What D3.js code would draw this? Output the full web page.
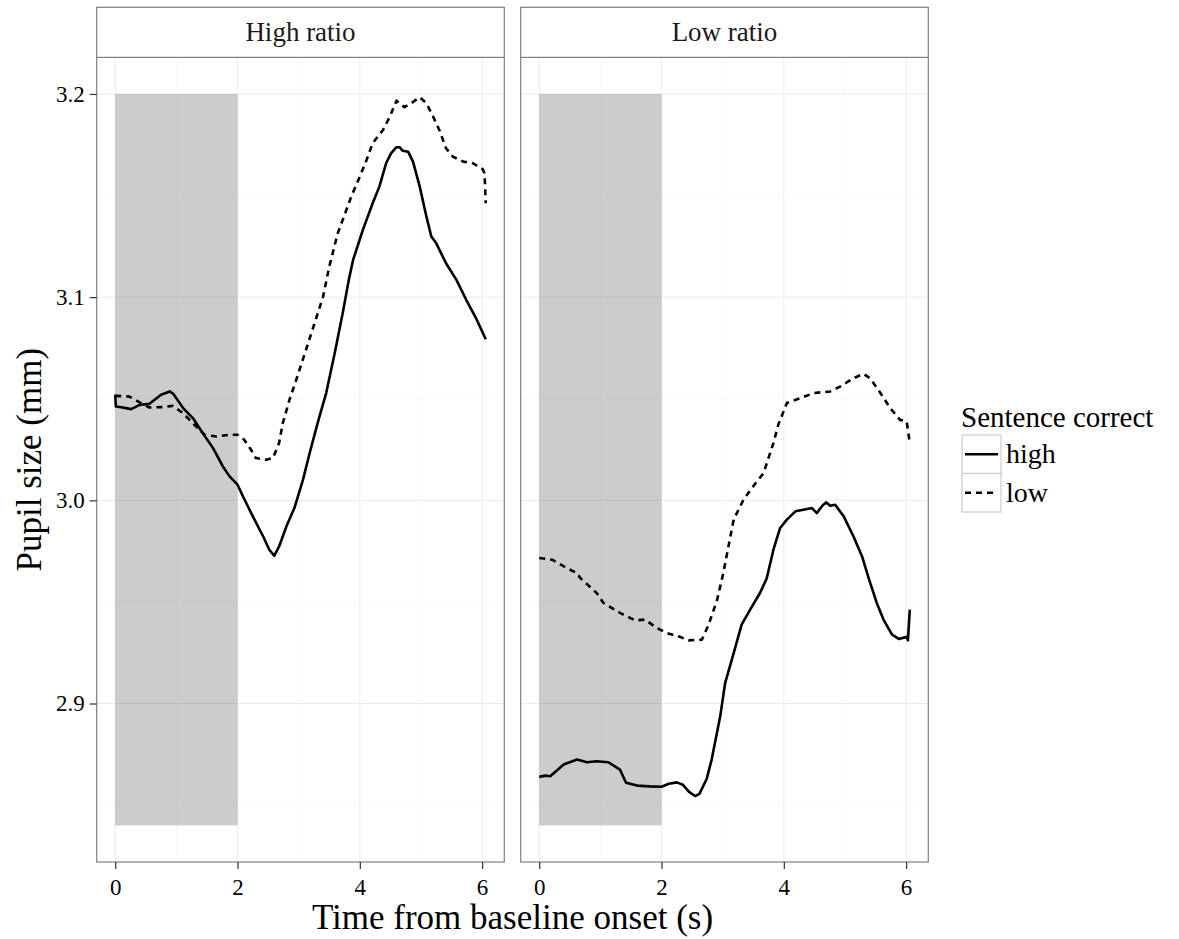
<!DOCTYPE html>
<html>
<head>
<meta charset="utf-8">
<script src="https://cdn.jsdelivr.net/npm/d3@7"></script>
<style>
  html, body { margin: 0; padding: 0; background: #fff; }
  svg { display: block; }
  svg text { font-family: "Liberation Serif", "DejaVu Serif", serif; }
</style>
</head>
<body>
<svg id="chart" width="1179" height="939"></svg>
<script>
// Facets and groups
const panels = ["High ratio", "Low ratio"];
const groups = ["high", "low"];
const legendTitle = "Sentence correct";
const xTitle = "Time from baseline onset (s)";
const yTitle = "Pupil size (mm)";

// Tick values and labels
const xTicks = [0, 2, 4, 6];
const xMinor = [1, 3, 5];
const yTicks = [2.9, 3.0, 3.1, 3.2];
const yTickLabels = ["2.9", "3.0", "3.1", "3.2"];
const yMinor = [2.85, 2.95, 3.05, 3.15];

// Baseline window (shaded region), seconds and mm
const baselineX = [0, 2];
const baselineY = [2.84, 3.2];

// Pupil size over time [seconds, mm]: High ratio, sentence correct = high
const highRatioHigh = [
  [0.00,3.0520],[0.01,3.0462],[0.10,3.0458],[0.26,3.0449],[0.40,3.0470],[0.56,3.0475],
  [0.75,3.0520],[0.89,3.0536],[0.95,3.0524],[1.11,3.0454],[1.27,3.0405],[1.43,3.0331],
  [1.60,3.0257],[1.76,3.0167],[1.87,3.0118],[2.00,3.0077],[2.09,3.0019],[2.25,2.9921],
  [2.42,2.9822],[2.52,2.9757],[2.60,2.9727],[2.68,2.9773],[2.80,2.9872],[2.93,2.9962],
  [3.07,3.0101],[3.18,3.0233],[3.31,3.0380],[3.45,3.0528],[3.59,3.0725],[3.72,3.0921],
  [3.82,3.1085],[3.89,3.1183],[4.05,3.1331],[4.21,3.1462],[4.32,3.1544],[4.43,3.1659],
  [4.51,3.1708],[4.60,3.1738],[4.65,3.1738],[4.70,3.1721],[4.79,3.1716],[4.87,3.1667],
  [4.98,3.1544],[5.09,3.1396],[5.17,3.1298],[5.25,3.1265],[5.41,3.1167],[5.58,3.1085],
  [5.74,3.0987],[5.90,3.0897],[6.06,3.0793]
];
// High ratio, sentence correct = low
const highRatioLow = [
  [0.00,3.0514],[0.23,3.0511],[0.40,3.0482],[0.56,3.0457],[0.78,3.0459],[0.94,3.0465],
  [1.11,3.0429],[1.32,3.0364],[1.46,3.0323],[1.65,3.0314],[1.87,3.0323],[2.00,3.0323],
  [2.11,3.0298],[2.22,3.0249],[2.30,3.0208],[2.47,3.0200],[2.58,3.0208],[2.68,3.0282],
  [2.74,3.0380],[2.85,3.0495],[2.96,3.0593],[3.12,3.0741],[3.26,3.0872],[3.40,3.1003],
  [3.50,3.1150],[3.64,3.1315],[3.78,3.1429],[3.86,3.1495],[4.00,3.1593],[4.11,3.1675],
  [4.21,3.1757],[4.38,3.1823],[4.49,3.1888],[4.60,3.1967],[4.73,3.1935],[4.84,3.1954],
  [4.98,3.1984],[5.09,3.1954],[5.20,3.1888],[5.30,3.1823],[5.41,3.1733],[5.52,3.1692],
  [5.69,3.1667],[5.85,3.1659],[6.01,3.1630],[6.04,3.1610],[6.06,3.1462]
];
// Low ratio, sentence correct = high
const lowRatioHigh = [
  [0.00,2.8639],[0.10,2.8645],[0.18,2.8642],[0.40,2.8700],[0.62,2.8724],[0.78,2.8711],
  [0.94,2.8716],[1.13,2.8711],[1.32,2.8675],[1.42,2.8610],[1.60,2.8596],[1.80,2.8592],
  [2.00,2.8590],[2.12,2.8605],[2.25,2.8612],[2.35,2.8600],[2.45,2.8565],[2.55,2.8545],
  [2.62,2.8555],[2.74,2.8630],[2.82,2.8724],[2.96,2.8937],[3.04,2.9100],[3.18,2.9248],
  [3.31,2.9388],[3.45,2.9462],[3.61,2.9544],[3.72,2.9615],[3.83,2.9757],[3.94,2.9864],
  [4.05,2.9905],[4.19,2.9946],[4.32,2.9954],[4.46,2.9962],[4.54,2.9937],[4.62,2.9970],
  [4.69,2.9990],[4.76,2.9973],[4.84,2.9978],[4.98,2.9921],[5.14,2.9822],[5.28,2.9724],
  [5.39,2.9615],[5.52,2.9495],[5.63,2.9413],[5.77,2.9339],[5.88,2.9318],[6.01,2.9328],
  [6.03,2.9311],[6.06,2.9462]
];
// Low ratio, sentence correct = low
const lowRatioLow = [
  [0.00,2.9716],[0.21,2.9708],[0.48,2.9662],[0.62,2.9642],[0.67,2.9618],[0.94,2.9544],
  [1.05,2.9495],[1.32,2.9446],[1.57,2.9409],[1.73,2.9413],[1.92,2.9372],[2.09,2.9347],
  [2.31,2.9327],[2.44,2.9311],[2.66,2.9314],[2.77,2.9388],[2.91,2.9511],[3.01,2.9642],
  [3.18,2.9905],[3.34,3.0003],[3.50,3.0069],[3.67,3.0135],[3.83,3.0282],[3.91,3.0372],
  [4.05,3.0479],[4.27,3.0503],[4.49,3.0528],[4.76,3.0536],[4.92,3.0560],[5.14,3.0601],
  [5.30,3.0623],[5.41,3.0601],[5.58,3.0528],[5.74,3.0454],[5.90,3.0396],[6.01,3.0388],
  [6.06,3.0282]
];

const panelSeries = [
  { panel: panels[0], lines: [{ group: groups[0], values: highRatioHigh }, { group: groups[1], values: highRatioLow }] },
  { panel: panels[1], lines: [{ group: groups[0], values: lowRatioHigh }, { group: groups[1], values: lowRatioLow }] }
];

// Layout
const panelLefts = [96.7, 520.7];
const panelW = 407.6;
const stripTop = 7.3;
const panelTop = 57.4;
const panelBottom = 862;
const lineWidth = 2.6;
const serif = "'Liberation Serif', 'DejaVu Serif', serif";
const dashFor = g => g === "low" ? "6,5" : null;

const svg = d3.select("#chart");

// ggplot-style 5% expansion of the data range
function expand(lo, hi, f = 0.05) { const d = (hi - lo) * f; return [lo - d, hi + d]; }
const allPts = [highRatioHigh, highRatioLow, lowRatioHigh, lowRatioLow].flat();
const xExt = d3.extent(allPts.map(d => d[0]).concat(baselineX));
const yExt = d3.extent(allPts.map(d => d[1]).concat(baselineY));

const y = d3.scaleLinear().domain(expand(yExt[0], yExt[1])).range([panelBottom, panelTop]);

panelSeries.forEach((ps, i) => {
  const left = panelLefts[i];
  const x = d3.scaleLinear().domain(expand(xExt[0], xExt[1])).range([left, left + panelW]);
  const g = svg.append("g");

  // grid
  g.selectAll(".xminor").data(xMinor).join("line")
    .attr("x1", d => x(d)).attr("x2", d => x(d))
    .attr("y1", panelTop).attr("y2", panelBottom)
    .attr("stroke", "#f9f9f9").attr("stroke-width", 1);
  g.selectAll(".yminor").data(yMinor).join("line")
    .attr("x1", left).attr("x2", left + panelW)
    .attr("y1", d => y(d)).attr("y2", d => y(d))
    .attr("stroke", "#f9f9f9").attr("stroke-width", 1);
  g.selectAll(".xmajor").data(xTicks).join("line")
    .attr("x1", d => x(d)).attr("x2", d => x(d))
    .attr("y1", panelTop).attr("y2", panelBottom)
    .attr("stroke", "#ebebeb").attr("stroke-width", 1);
  g.selectAll(".ymajor").data(yTicks).join("line")
    .attr("x1", left).attr("x2", left + panelW)
    .attr("y1", d => y(d)).attr("y2", d => y(d))
    .attr("stroke", "#ebebeb").attr("stroke-width", 1);

  // baseline window
  g.append("rect")
    .attr("x", x(baselineX[0])).attr("width", x(baselineX[1]) - x(baselineX[0]))
    .attr("y", y(baselineY[1])).attr("height", y(baselineY[0]) - y(baselineY[1]))
    .attr("fill", "#000").attr("fill-opacity", 0.2);

  // lines
  const line = d3.line().x(d => x(d[0])).y(d => y(d[1]));
  ps.lines.forEach(s => {
    g.append("path").datum(s.values)
      .attr("d", line)
      .attr("fill", "none")
      .attr("stroke", "#000")
      .attr("stroke-width", lineWidth)
      .attr("stroke-linejoin", "round")
      .attr("stroke-dasharray", dashFor(s.group));
  });

  // panel border
  g.append("rect")
    .attr("x", left).attr("y", panelTop).attr("width", panelW).attr("height", panelBottom - panelTop)
    .attr("fill", "none").attr("stroke", "#7f7f7f").attr("stroke-width", 1.2);

  // strip
  g.append("rect")
    .attr("x", left).attr("y", stripTop).attr("width", panelW).attr("height", panelTop - stripTop)
    .attr("fill", "#fff").attr("stroke", "#7f7f7f").attr("stroke-width", 1.2);
  g.append("text")
    .attr("x", left + panelW / 2).attr("y", (stripTop + panelTop) / 2 + 8.5)
    .attr("text-anchor", "middle")
    .attr("font-family", serif).attr("font-size", 27).attr("fill", "#1a1a1a")
    .text(ps.panel);

  // x axis
  const xAxis = d3.axisBottom(x).tickValues(xTicks).tickSize(7).tickPadding(10).tickFormat(d3.format("d"));
  const ax = g.append("g").attr("transform", `translate(0,${panelBottom})`).call(xAxis);
  ax.attr("font-family", serif);
  ax.select(".domain").remove();
  ax.selectAll(".tick line").attr("stroke", "#333").attr("stroke-width", 1.2);
  ax.selectAll(".tick text").attr("font-size", 23).attr("fill", "#000").attr("font-family", serif);

  // y axis on the first panel
  if (i === 0) {
    const yAxis = d3.axisLeft(y).tickValues(yTicks).tickSize(7).tickPadding(5)
      .tickFormat((d, k) => yTickLabels[k]);
    const ay = g.append("g").attr("transform", `translate(${left},0)`).call(yAxis);
    ay.attr("font-family", serif);
    ay.select(".domain").remove();
    ay.selectAll(".tick line").attr("stroke", "#333").attr("stroke-width", 1.2);
    ay.selectAll(".tick text").attr("font-size", 23).attr("fill", "#000").attr("font-family", serif);
  }
});

// axis titles
svg.append("text")
  .attr("x", (panelLefts[0] + panelLefts[1] + panelW) / 2).attr("y", 929)
  .attr("text-anchor", "middle").attr("font-family", serif).attr("font-size", 35).attr("fill", "#000")
  .text(xTitle);
svg.append("text")
  .attr("transform", `translate(41,${(panelTop + panelBottom) / 2}) rotate(-90)`)
  .attr("text-anchor", "middle").attr("font-family", serif).attr("font-size", 35).attr("fill", "#000")
  .text(yTitle);

// legend
const lg = svg.append("g").attr("transform", "translate(962,0)");
lg.append("text").attr("x", -1).attr("y", 427).attr("font-family", serif).attr("font-size", 29)
  .attr("fill", "#000").text(legendTitle);
const keyW = 39, keyH = 38.5, keyTop = 435;
groups.forEach((grp, k) => {
  const ky = keyTop + k * keyH;
  lg.append("rect").attr("x", 0).attr("y", ky).attr("width", keyW).attr("height", keyH)
    .attr("fill", "#fff").attr("stroke", "#cccccc").attr("stroke-width", 1.2);
  lg.append("line").attr("x1", 3).attr("x2", keyW - 3).attr("y1", ky + keyH / 2).attr("y2", ky + keyH / 2)
    .attr("stroke", "#000").attr("stroke-width", lineWidth)
    .attr("stroke-dasharray", dashFor(grp));
  lg.append("text").attr("x", keyW + 5).attr("y", ky + keyH / 2 + 9)
    .attr("font-family", serif).attr("font-size", 28).attr("fill", "#000").text(grp);
});
</script>
</body>
</html>
